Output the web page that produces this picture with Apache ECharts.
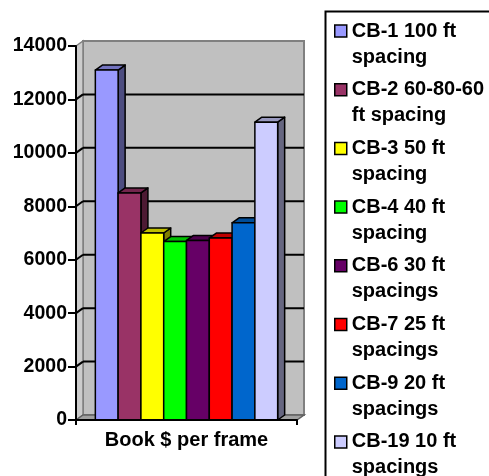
<!DOCTYPE html>
<html>
<head>
<meta charset="utf-8">
<script src="https://cdn.jsdelivr.net/npm/echarts@6/dist/echarts.min.js"></script>
<style>
  html, body { margin: 0; padding: 0; background: #ffffff; }
  #chart { width: 489px; height: 476px; }
</style>
</head>
<body>
<div id="chart"></div>
<script>
// Book cost per frame for each bracing layout
const categories = ['Book $ per frame'];
const seriesNames = [
  'CB-1 100 ft\nspacing',
  'CB-2 60-80-60\nft spacing',
  'CB-3 50 ft\nspacing',
  'CB-4 40 ft\nspacing',
  'CB-6 30 ft\nspacings',
  'CB-7 25 ft\nspacings',
  'CB-9 20 ft\nspacings',
  'CB-19 10 ft\nspacings'
];
const seriesValues = [13100, 8500, 7000, 6680, 6720, 6810, 7380, 11150];
const seriesColors = ['#9999FF', '#993366', '#FFFF00', '#00FF00', '#660066', '#FF0000', '#0066CC', '#CCCCFF'];
const yTicks = [0, 2000, 4000, 6000, 8000, 10000, 12000, 14000];

const FONT = "'Liberation Sans', Arial, sans-serif";
const DEPTH_X = 7;   // pseudo-3D depth offset
const DEPTH_Y = 5;
const BAR_SPAN = 0.825; // share of the category band used by the bar cluster

function shade(hex, f) {
  const n = parseInt(hex.slice(1), 16);
  const r = Math.round(((n >> 16) & 255) * f);
  const g = Math.round(((n >> 8) & 255) * f);
  const b = Math.round((n & 255) * f);
  return 'rgb(' + r + ',' + g + ',' + b + ')';
}

const yMax = yTicks[yTicks.length - 1];

// back wall, side wall and floor of the 3D box
const wallSeries = {
  type: 'custom',
  name: '__walls',
  z: 0,
  silent: true,
  data: [[0, yMax]],
  renderItem: function (params, api) {
    const cs = params.coordSys;
    const x0 = cs.x, x1 = cs.x + cs.width;
    const yTop = api.coord([0, yMax])[1];
    const yBot = api.coord([0, 0])[1];
    const wallStyle = { fill: '#c0c0c0', stroke: '#808080', lineWidth: 2 };
    return {
      type: 'group',
      children: [
        { type: 'polygon', shape: { points: [[x0 + DEPTH_X, yTop - DEPTH_Y], [x1 + DEPTH_X, yTop - DEPTH_Y], [x1 + DEPTH_X, yBot - DEPTH_Y], [x0 + DEPTH_X, yBot - DEPTH_Y]] }, style: wallStyle },
        { type: 'polygon', shape: { points: [[x0, yTop], [x0 + DEPTH_X, yTop - DEPTH_Y], [x0 + DEPTH_X, yBot - DEPTH_Y], [x0, yBot]] }, style: { fill: '#cccccc', stroke: '#808080', lineWidth: 1.5 } },
        { type: 'polygon', shape: { points: [[x0, yBot], [x0 + DEPTH_X, yBot - DEPTH_Y], [x1 + DEPTH_X, yBot - DEPTH_Y], [x1, yBot]] }, style: { fill: '#a0a0a0', stroke: '#606060', lineWidth: 1.5 } }
      ]
    };
  }
};

// gridlines drawn on the back and side walls
const gridSeries = {
  type: 'custom',
  name: '__grid',
  z: 1,
  silent: true,
  data: yTicks.filter(function (v) { return v > 0 && v < yMax; }).map(function (v) { return [0, v]; }),
  renderItem: function (params, api) {
    const cs = params.coordSys;
    const x0 = cs.x, x1 = cs.x + cs.width;
    const y = api.coord([0, api.value(1)])[1];
    const st = { stroke: '#000000', lineWidth: 2 };
    return {
      type: 'group',
      children: [
        { type: 'line', shape: { x1: x0, y1: y, x2: x0 + DEPTH_X, y2: y - DEPTH_Y }, style: st },
        { type: 'line', shape: { x1: x0 + DEPTH_X, y1: y - DEPTH_Y, x2: x1 + DEPTH_X, y2: y - DEPTH_Y }, style: st }
      ]
    };
  }
};

function barSeries(i) {
  const color = seriesColors[i];
  return {
    type: 'custom',
    name: seriesNames[i],
    z: 2,
    itemStyle: { color: color, borderColor: '#000000', borderWidth: 1.5 },
    data: [[0, seriesValues[i]]],
    renderItem: function (params, api) {
      const top = api.coord([api.value(0), api.value(1)]);
      const base = api.coord([api.value(0), 0]);
      const band = api.size([1, 0])[0];
      const n = seriesValues.length;
      const w = band * BAR_SPAN / n;
      const left = top[0] - band * BAR_SPAN / 2 + i * w;
      const right = left + w;
      const yT = top[1], yB = base[1];
      const edge = { stroke: '#000000', lineWidth: 1.5, lineJoin: 'round' };
      return {
        type: 'group',
        children: [
          { type: 'polygon', shape: { points: [[right, yT], [right + DEPTH_X, yT - DEPTH_Y], [right + DEPTH_X, yB - DEPTH_Y], [right, yB]] }, style: Object.assign({ fill: shade(color, 0.5) }, edge) },
          { type: 'polygon', shape: { points: [[left, yT], [left + DEPTH_X, yT - DEPTH_Y], [right + DEPTH_X, yT - DEPTH_Y], [right, yT]] }, style: Object.assign({ fill: shade(color, 0.75) }, edge) },
          { type: 'rect', shape: { x: left, y: yT, width: w, height: yB - yT }, style: Object.assign({ fill: color }, edge) }
        ]
      };
    }
  };
}

const chart = echarts.init(document.getElementById('chart'), null, { renderer: 'canvas' });

chart.setOption({
  animation: false,
  backgroundColor: '#ffffff',
  grid: { left: 76, right: 192, top: 46, bottom: 56, containLabel: false },
  xAxis: {
    type: 'category',
    data: categories,
    z: 10,
    axisLine: { show: true, lineStyle: { color: '#000000', width: 2 } },
    axisTick: { show: true, length: 5, lineStyle: { color: '#000000', width: 2 } },
    axisLabel: { color: '#000000', fontFamily: FONT, fontWeight: 'bold', fontSize: 20, margin: 10 },
    splitLine: { show: false }
  },
  yAxis: {
    type: 'value',
    min: 0,
    max: yMax,
    interval: 2000,
    z: 10,
    axisLine: { show: true, lineStyle: { color: '#000000', width: 2 } },
    axisTick: { show: true, length: 8, lineStyle: { color: '#000000', width: 2 } },
    axisLabel: {
      color: '#000000', fontFamily: FONT, fontWeight: 'bold', fontSize: 19.5, margin: 9,
      formatter: function (v) { return String(v); }
    },
    splitLine: { show: false }
  },
  legend: {
    data: seriesNames,
    orient: 'vertical',
    left: 334,
    top: -8,
    height: 700,
    padding: 0,
    itemWidth: 12,
    itemHeight: 12,
    itemGap: -19.3,
    selectedMode: false,
    icon: 'rect',
    itemStyle: { borderColor: '#000000', borderWidth: 1.5 },
    // leading blank line keeps the swatch level with the first text line
    formatter: function (name) { return '\n' + name; },
    textStyle: { color: '#000000', fontFamily: FONT, fontWeight: 'bold', fontSize: 20, lineHeight: 26 }
  },
  graphic: [
    { type: 'rect', left: 323, top: 9, shape: { width: 200, height: 500 }, style: { fill: 'none', stroke: '#000000', lineWidth: 2 }, z: 0, silent: true }
  ],
  series: [wallSeries, gridSeries].concat(seriesValues.map(function (v, i) { return barSeries(i); }))
});
</script>
</body>
</html>
